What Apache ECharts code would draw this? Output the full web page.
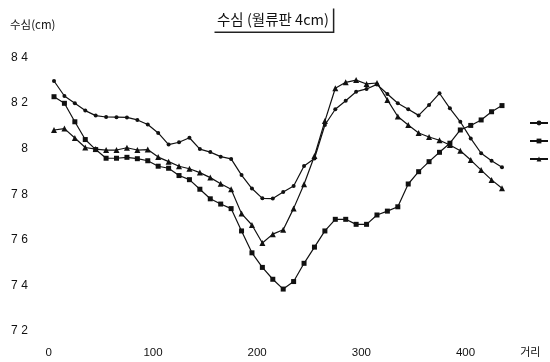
<!DOCTYPE html>
<html>
<head>
<meta charset="utf-8">
<script src="https://cdn.jsdelivr.net/npm/echarts@6/dist/echarts.min.js"></script>
<style>html,body{margin:0;padding:0;background:#fff}#c{width:550px;height:362px}</style>
</head>
<body>
<div id="c"></div>
<script>
const distances = [5,15,25,35,45,55,65,75,85,95,105,115,125,135,145,155,165,175,185,195,205,215,225,235,245,255,265,275,285,295,305,315,325,335,345,355,365,375,385,395,405,415,425,435];
const series1 = [8.297,8.231,8.199,8.167,8.145,8.139,8.138,8.137,8.126,8.106,8.069,8.018,8.028,8.048,7.998,7.985,7.965,7.955,7.884,7.825,7.782,7.781,7.810,7.836,7.924,7.957,8.104,8.173,8.210,8.250,8.262,8.282,8.240,8.199,8.173,8.146,8.192,8.243,8.177,8.118,8.045,7.980,7.947,7.918];
const series2 = [8.228,8.199,8.118,8.040,7.996,7.958,7.958,7.962,7.956,7.947,7.923,7.914,7.882,7.864,7.822,7.780,7.757,7.737,7.639,7.543,7.479,7.427,7.384,7.417,7.497,7.568,7.639,7.690,7.690,7.668,7.668,7.709,7.726,7.745,7.845,7.899,7.943,7.984,8.024,8.082,8.102,8.126,8.162,8.189];
const series3 = [8.082,8.088,8.047,8.005,7.998,7.994,7.994,8.004,7.994,7.996,7.963,7.943,7.923,7.912,7.895,7.873,7.846,7.822,7.715,7.665,7.586,7.625,7.644,7.738,7.844,7.968,8.121,8.265,8.291,8.301,8.284,8.288,8.214,8.141,8.104,8.069,8.051,8.037,8.016,7.991,7.950,7.906,7.863,7.826];
const yTickValues = [7.2,7.4,7.6,7.8,8.0,8.2,8.4];
const yTickLabels = ['7 2','7 4','7 6','7 8','8','8 2','8 4'];
const seriesNames = ['A','B','C'];
const titleText = '수심 (월류판 4cm)';
const yName = '수심(cm)';
const xName = '거리';

const pair = (ys) => distances.map((x, i) => [x, ys[i]]);
const chart = echarts.init(document.getElementById('c'), null, {renderer: 'canvas'});
const ink = '#111';
const lineBase = {type: 'line', lineStyle: {color: ink, width: 1.2}, itemStyle: {color: ink}, emphasis: {disabled: true}, animation: false};
chart.setOption({
  backgroundColor: '#fff',
  animation: false,
  title: [
    {text: titleText, left: 213, top: 7, padding: [5, 4, 5, 4], backgroundColor: '#fff',
     shadowColor: '#222', shadowBlur: 0, shadowOffsetX: 1.5, shadowOffsetY: 1.5,
     textStyle: {fontFamily: 'Noto Sans CJK KR', fontSize: 14.5, fontWeight: 'normal', color: ink}},
    {text: yName, left: 10, top: 19, padding: 0,
     textStyle: {fontFamily: 'Noto Sans CJK KR', fontSize: 11.5, fontWeight: 'normal', color: ink}}
  ],
  legend: [0, 1, 2].map((k) => ({
    data: [seriesNames[k]], left: 529, top: 120 + k * 18, orient: 'vertical',
    itemWidth: 18, itemHeight: 6, formatter: () => '', selectedMode: false,
    textStyle: {fontSize: 6}, padding: 0
  })),
  grid: {left: 48.8, right: 42.8, top: 57.5, bottom: 31, containLabel: false},
  xAxis: {
    type: 'value', min: 0, max: 440, interval: 100,
    name: xName, nameLocation: 'end', nameGap: 13,
    nameTextStyle: {fontFamily: 'Noto Sans CJK KR', fontSize: 11, color: ink, verticalAlign: 'top', padding: [15, 0, 0, 0]},
    axisLine: {show: false}, axisTick: {show: false}, splitLine: {show: false},
    axisLabel: {showMaxLabel: false, margin: 16, color: ink, fontFamily: 'Liberation Sans', fontSize: 11.5}
  },
  yAxis: {
    type: 'value', min: 7.2, max: 8.4, interval: 0.2,
    axisLine: {show: false}, axisTick: {show: false}, splitLine: {show: false},
    axisLabel: {margin: 21, color: ink, fontFamily: 'Liberation Sans', fontSize: 12,
      formatter: (v) => { const i = yTickValues.findIndex((t) => Math.abs(t - v) < 1e-6); return i >= 0 ? yTickLabels[i] : ''; }}
  },
  series: [
    Object.assign({}, lineBase, {name: seriesNames[0], data: pair(series1), symbol: 'circle', symbolSize: 4}),
    Object.assign({}, lineBase, {name: seriesNames[1], data: pair(series2), symbol: 'rect', symbolSize: 5}),
    Object.assign({}, lineBase, {name: seriesNames[2], data: pair(series3), symbol: 'triangle', symbolSize: 6})
  ]
});
</script>
</body>
</html>
